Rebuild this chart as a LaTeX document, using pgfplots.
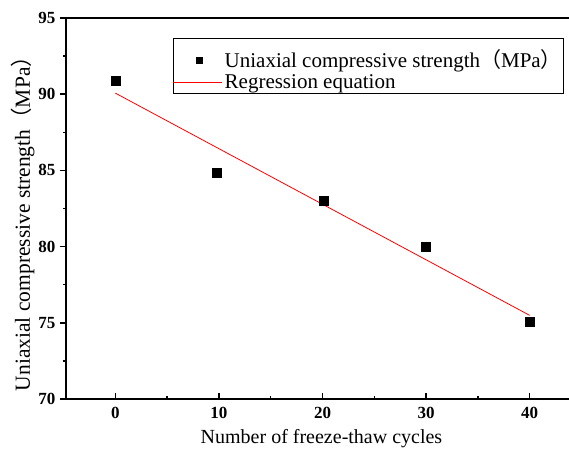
\documentclass[border=0pt]{standalone}
\usepackage{fontspec}
\setmainfont{Liberation Serif}
\newfontfamily\cjk{Noto Sans CJK SC}
\usepackage{pgfplots}
\pgfplotsset{compat=1.18}
\begin{document}
\begin{tikzpicture}
\begin{axis}[
  scale only axis,
  width=503pt, height=381pt,
  xmin=-4.77, xmax=43.8,
  ymin=70, ymax=95,
  axis x line=box,
  axis y line=left,
  axis line style={line width=1.8pt,-},
  xtick={0,10,20,30,40},
  ytick={70,75,80,85,90,95},
  minor xtick={5,15,25,35},
  minor ytick={72.5,77.5,82.5,87.5,92.5},
  xtick pos=bottom, ytick pos=left,
  x tick style={line width=1.5pt, black},
  y tick style={line width=1.5pt, black},
  xtick align=inside,
  ytick align=outside,
  major tick length=6pt, minor tick length=3pt,
  /pgf/number format/assume math mode=true,
  ticklabel style={font=\bfseries\fontsize{17}{17}\selectfont},
  xticklabel style={yshift=-5pt},
  yticklabel style={xshift=-1pt},
  xlabel={Number of freeze-thaw cycles},
  ylabel={Uniaxial compressive strength{\cjk（}MPa{\cjk）}},
  xlabel style={font=\fontsize{20}{20}\selectfont, yshift=-4pt, xshift=4pt},
  ylabel style={font=\fontsize{21.5}{21.5}\selectfont, yshift=-3pt, xshift=-10pt},
  legend style={at={(0.212,0.947)}, anchor=north west, draw=black, line width=0.6pt,
    font=\fontsize{21}{21}\selectfont, inner xsep=0pt, inner ysep=3pt, row sep=0pt,
    cells={anchor=base west}},
]
\addplot[only marks, mark=square*, mark size=4.5pt, black,
  legend image code/.code={\draw[mark=square*, mark size=3pt, black] plot coordinates {(0.92cm,7pt)};}]
  coordinates {(0,90.9) (9.8,84.85) (20.1,83.04) (30,80.0) (40,75.1)};
\addlegendentry[text height=26pt, text depth=0pt, inner ysep=0pt]{Uniaxial compressive strength{\cjk（}MPa{\cjk）}}
\addplot[red, line width=0.8pt,
  legend image code/.code={\draw[red, line width=0.8pt] (0cm,6pt) -- (1.72cm,6pt);}]
  coordinates {(0,90.07) (40,75.49)};
\addlegendentry[text height=21pt, text depth=2pt, inner ysep=0pt]{Regression equation}
\coordinate (ll) at (rel axis cs:0,0);
\coordinate (ur) at (rel axis cs:1,1);
\end{axis}
\pgfresetboundingbox
\path[use as bounding box] ([shift={(-66pt,-59pt)}]ll) rectangle ([shift={(0pt,18pt)}]ur);
\end{tikzpicture}
\end{document}
